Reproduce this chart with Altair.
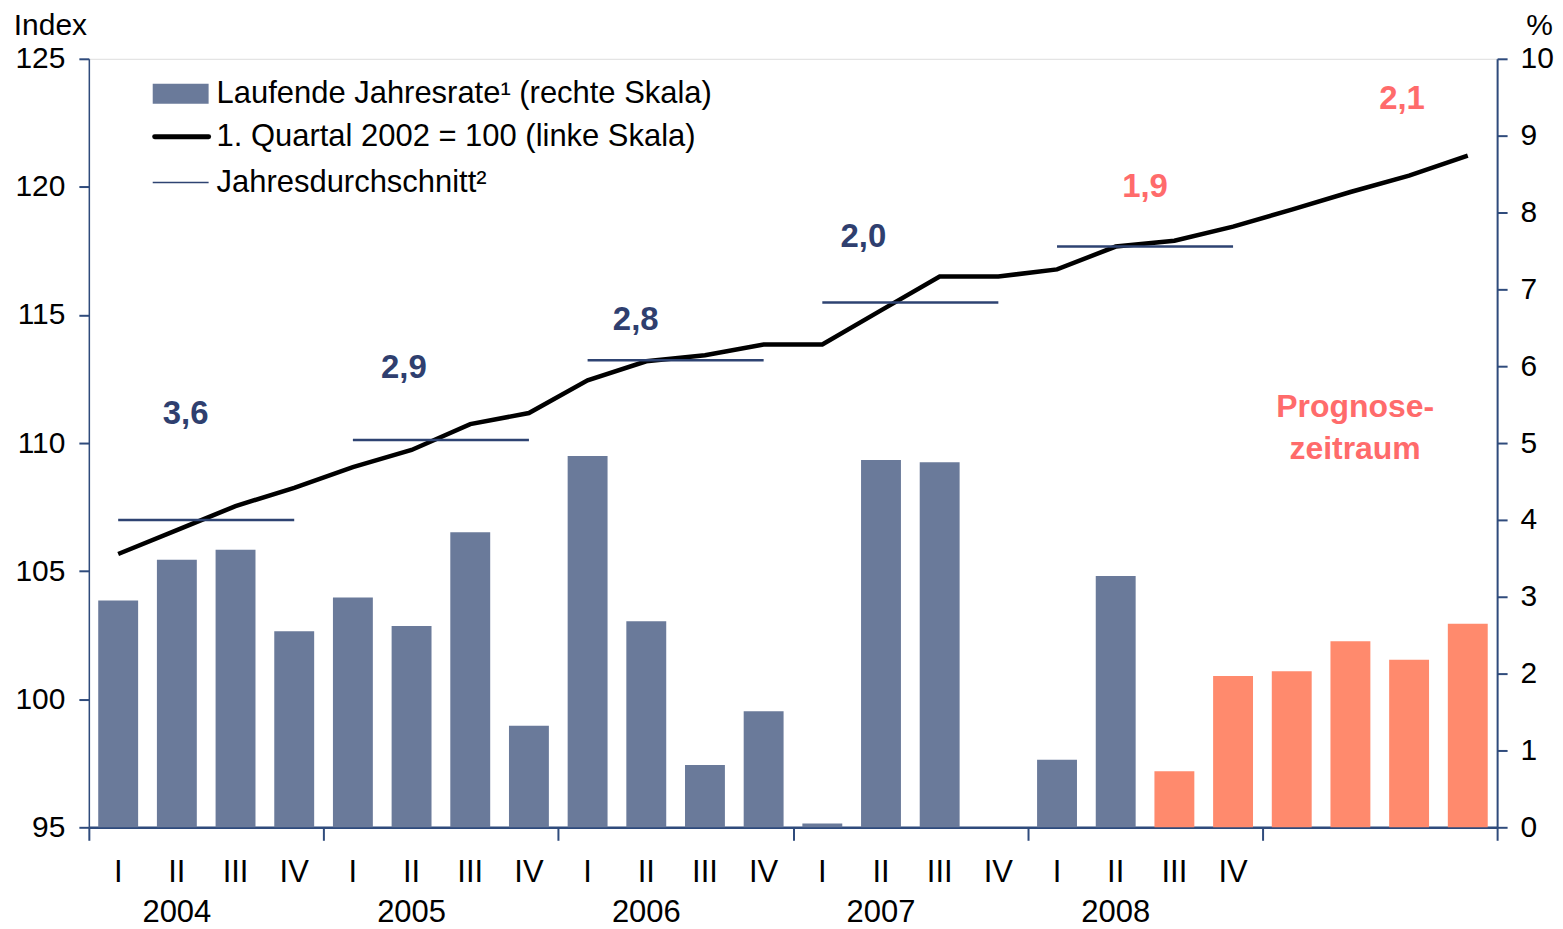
import altair as alt
import pandas as pd

# ---- data ----
quarter_names = ["I", "II", "III", "IV"] * 6
quarter_years = [y for y in [2004, 2005, 2006, 2007, 2008, 2009] for _ in range(4)]
rate = [2.95, 3.48, 3.61, 2.55,
        2.99, 2.62, 3.84, 1.32,
        4.83, 2.68, 0.81, 1.51,
        0.05, 4.78, 4.75, 0.0,
        0.88, 3.27, 0.73, 1.97,
        2.03, 2.42, 2.18, 2.65]
index_vals = [105.67, 106.6, 107.54, 108.25,
              109.06, 109.73, 110.74, 111.17,
              112.45, 113.19, 113.43, 113.85,
              113.85, 115.18, 116.5, 116.5,
              116.78, 117.67, 117.9, 118.45,
              119.11, 119.8, 120.44, 121.22]
forecast_start = 18          # 2008 III onwards is forecast
labelled_quarters = 20       # quarters with axis labels (2004-2008)

avg_years = [2004, 2005, 2006, 2007, 2008]
avg_values = [107.0, 110.12, 113.23, 115.49, 117.67]

ann_text = ["3,6", "2,9", "2,8", "2,0", "1,9", "2,1"]
ann_x = [1.65, 5.37, 9.32, 13.2, 18.0, 22.38]
ann_y = [111.13, 112.92, 114.79, 118.06, 120.01, 123.44]
ann_kind = ["Ist", "Ist", "Ist", "Ist", "Prognose", "Prognose"]

legend_labels = ["Laufende Jahresrate\u00b9 (rechte Skala)",
                 "1. Quartal 2002 = 100 (linke Skala)",
                 "Jahresdurchschnitt\u00b2"]

# ---- styling ----
W, H = 1411, 770
FONT = "Liberation Sans"
FS = 30
AX = "#2F4B7C"
BAR_BLUE = "#6A7A9A"
BAR_ORANGE = "#FF8A6D"
AVG_BLUE = "#2E4372"
LBL_BLUE = "#2F3F6F"
SALMON = "#FF6B6B"

n = len(rate)
df = pd.DataFrame({
    "i": list(range(n)),
    "q": quarter_names,
    "year": quarter_years,
    "rate": rate,
    "idx": index_vals,
})
df["phase"] = ["Prognose" if i >= forecast_start else "Ist" for i in df["i"]]
df["x0"] = df["i"] + 0.16
df["x1"] = df["i"] + 0.84
df["xc"] = df["i"] + 0.5

xscale = alt.Scale(domain=[0, n], nice=False, zero=False)
yl = alt.Scale(domain=[95, 125], nice=False, zero=False)
yr = alt.Scale(domain=[0, 10], nice=False)

x_axis = alt.Axis(values=list(range(0, n + 1, 4)), labels=False, tickSize=13,
                  domainColor=AX, tickColor=AX, domainWidth=2.5, tickWidth=2,
                  grid=False, title=None)
yl_axis = alt.Axis(orient="left", values=list(range(95, 126, 5)), tickSize=10,
                   domainColor=AX, tickColor=AX, domainWidth=1.5, tickWidth=2,
                   labelFontSize=FS, labelFont=FONT, labelColor="black",
                   labelPadding=14, grid=False,
                   title="Index", titleAngle=0, titleFont=FONT, titleFontSize=FS,
                   titleFontWeight="normal", titleColor="black",
                   titleX=-39, titleY=-33, titleAlign="center",
                   titleBaseline="middle")
yr_axis = alt.Axis(orient="right", values=list(range(0, 11)), tickSize=10,
                   domainColor=AX, tickColor=AX, domainWidth=2, tickWidth=2,
                   labelFontSize=FS, labelFont=FONT, labelColor="black",
                   labelPadding=13, grid=False,
                   title="%", titleAngle=0, titleFont=FONT, titleFontSize=FS,
                   titleFontWeight="normal", titleColor="black",
                   titleX=42, titleY=-33, titleAlign="center",
                   titleBaseline="middle")

bars = alt.Chart(df).mark_bar().encode(
    x=alt.X("x0:Q", scale=xscale, axis=x_axis),
    x2="x1:Q",
    y=alt.Y("rate:Q", scale=yr, axis=yr_axis),
    y2=alt.datum(0),
    color=alt.Color("phase:N", scale=alt.Scale(domain=["Ist", "Prognose"],
                                               range=[BAR_BLUE, BAR_ORANGE]),
                    legend=None),
)

line = alt.Chart(df).mark_line(color="black", strokeWidth=4.5).encode(
    x=alt.X("xc:Q", scale=xscale, axis=x_axis),
    y=alt.Y("idx:Q", scale=yl, axis=yl_axis),
)

avg_df = pd.DataFrame({"year": avg_years, "avg": avg_values})
avg_df["k"] = list(range(len(avg_years)))
avg_df["xs"] = avg_df["k"] * 4 + 0.5
avg_df["xe"] = avg_df["k"] * 4 + 3.5
rules = alt.Chart(avg_df).mark_rule(color=AVG_BLUE, strokeWidth=2.5).encode(
    x=alt.X("xs:Q", scale=xscale, axis=x_axis),
    x2="xe:Q",
    y=alt.Y("avg:Q", scale=yl, axis=yl_axis),
)

ann_df = pd.DataFrame({"t": ann_text, "x": ann_x, "y": ann_y, "kind": ann_kind})
ann_df["col"] = [LBL_BLUE if k == "Ist" else SALMON for k in ann_df["kind"]]
ann = alt.Chart(ann_df).mark_text(font=FONT, fontSize=33, fontWeight="bold",
                                  align="center", baseline="middle").encode(
    x=alt.X("x:Q", scale=xscale, axis=x_axis),
    y=alt.Y("y:Q", scale=yl, axis=yl_axis),
    text="t:N",
    color=alt.Color("col:N", scale=None),
)

prog_df = pd.DataFrame({"x": [21.58], "y": [111.4], "t": [["Prognose-", "zeitraum"]]})
prog = alt.Chart(prog_df).mark_text(font=FONT, fontSize=32, fontWeight="bold",
                                   color=SALMON, align="center", baseline="middle",
                                   lineHeight=42).encode(
    x=alt.X("x:Q", scale=xscale, axis=x_axis),
    y=alt.Y("y:Q", scale=yl, axis=yl_axis),
    text="t",
)

lab_df = df[df["i"] < labelled_quarters]
qlabels = alt.Chart(lab_df).mark_text(font=FONT, fontSize=31, color="black",
                                      align="center", baseline="middle").encode(
    x=alt.X("xc:Q", scale=xscale, axis=x_axis),
    y=alt.value(H + 46),
    text="q:N",
)
yr_df = pd.DataFrame({"year": avg_years})
yr_df["x"] = [k * 4 + 1.5 for k in range(len(avg_years))]
ylabels = alt.Chart(yr_df).mark_text(font=FONT, fontSize=31, color="black",
                                     align="center", baseline="middle").encode(
    x=alt.X("x:Q", scale=xscale, axis=x_axis),
    y=alt.value(H + 86),
    text="year:N",
)

# ---- legend (drawn) ----
LFS = 31
leg_df = pd.DataFrame({"label": legend_labels, "row": [0, 1, 2]})
leg_t = [
    alt.Chart(leg_df[leg_df["row"] == r]).mark_text(font=FONT, fontSize=LFS, color="black",
                                                  align="left", baseline="middle").encode(
        x=alt.value(128), y=alt.value(yy), text="label:N")
    for r, yy in zip([0, 1, 2], [35, 78, 124])
]
leg_rect = alt.Chart(leg_df[leg_df["row"] == 0]).mark_rect(color=BAR_BLUE).encode(
    x=alt.value(64), x2=alt.value(120), y=alt.value(25), y2=alt.value(45))
leg_line = alt.Chart(leg_df[leg_df["row"] == 1]).mark_rule(color="black", strokeWidth=5,
                                                          strokeCap="round").encode(
    x=alt.value(66), x2=alt.value(120), y=alt.value(78))
leg_avg = alt.Chart(leg_df[leg_df["row"] == 2]).mark_rule(color=AVG_BLUE,
                                                         strokeWidth=1.5).encode(
    x=alt.value(64), x2=alt.value(120), y=alt.value(124))

left_group = alt.layer(line, rules, ann, prog)
chart = alt.layer(
    bars, left_group, qlabels, ylabels, leg_rect, leg_line, leg_avg, *leg_t
).resolve_scale(y="independent").properties(
    width=W, height=H,
    autosize=alt.AutoSizeParams(type="none"),
    padding={"left": 81, "top": 50, "right": 58, "bottom": 100},
).configure_view(stroke=AX, strokeWidth=1).configure(background="white")

chart.save("out.html", embed_options={"renderer": "svg", "actions": False})
